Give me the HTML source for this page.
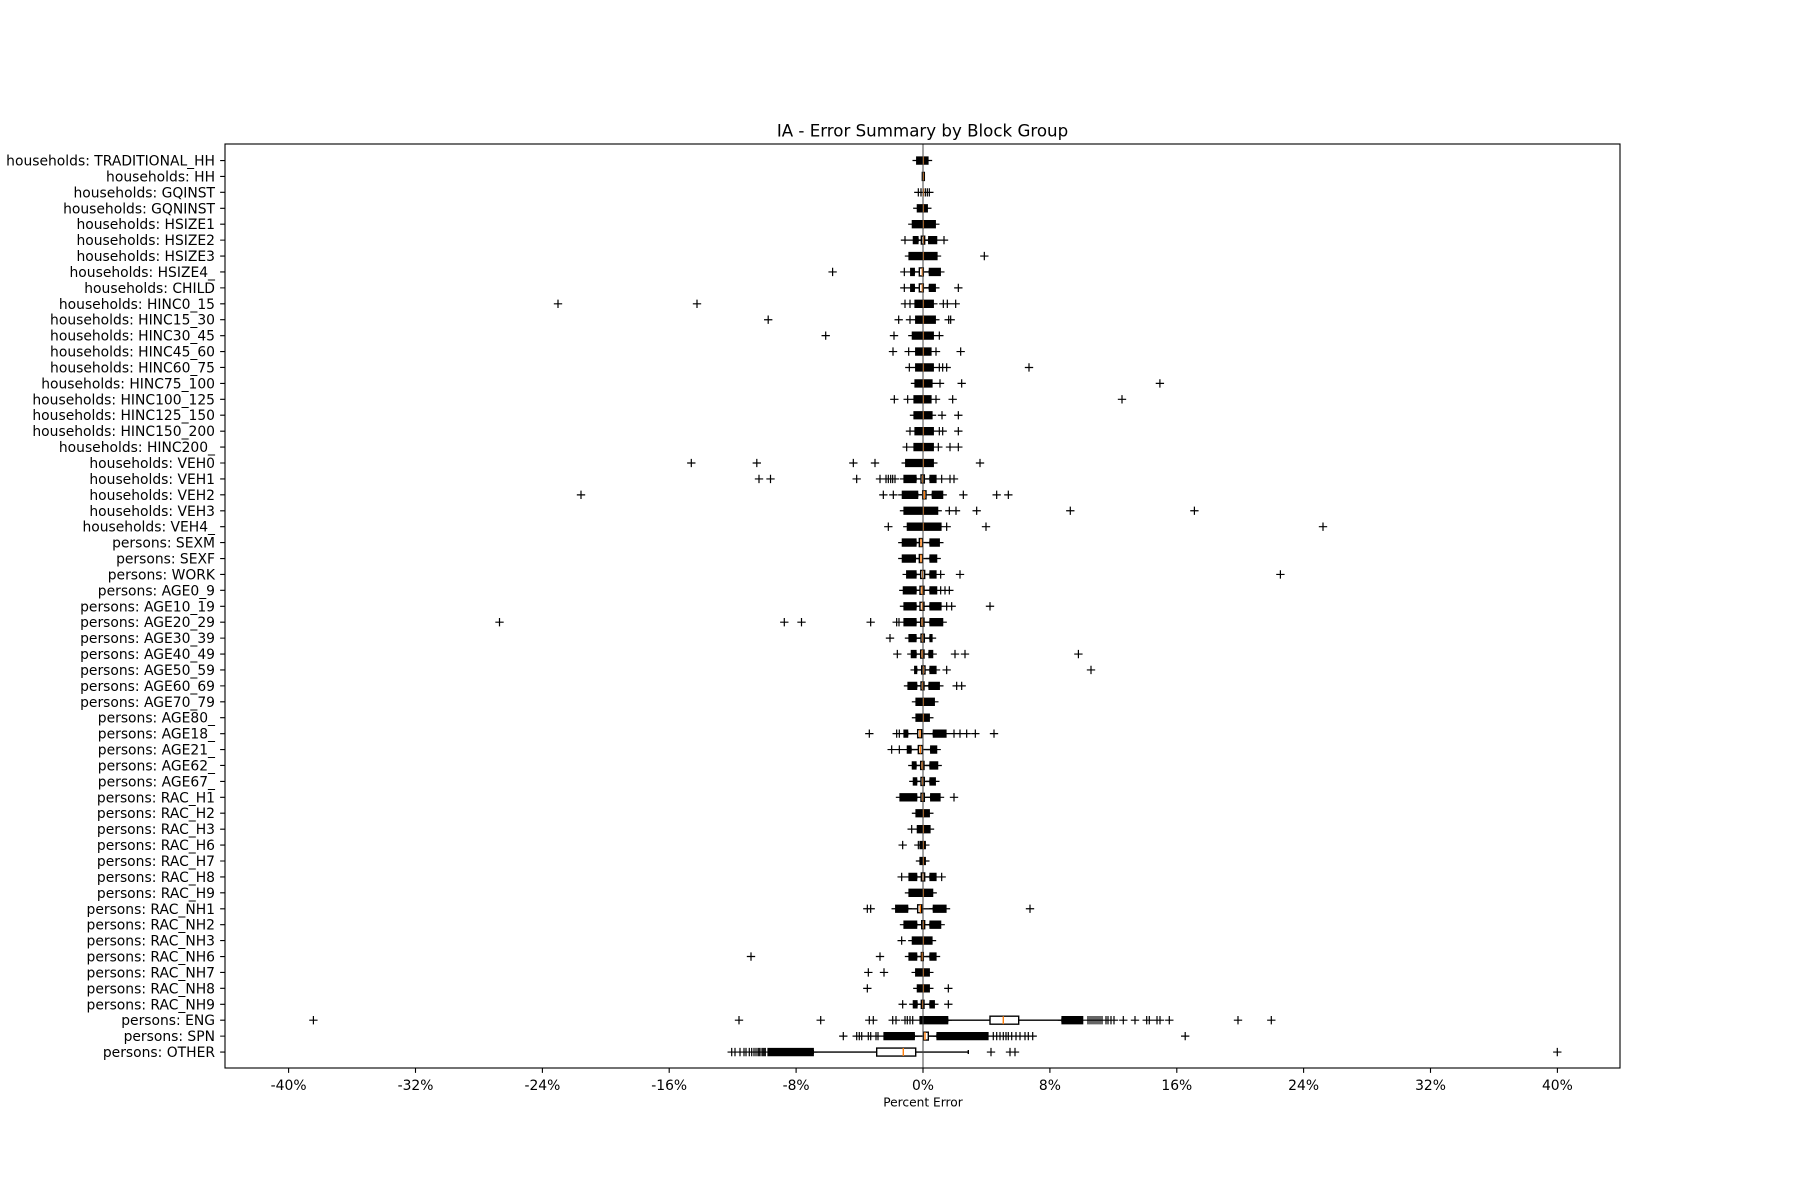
<!DOCTYPE html>
<html>
<head>
<meta charset="utf-8">
<style>
html,body{margin:0;padding:0;background:#fff;}
svg{display:block;}
text{font-family:"DejaVu Sans","Liberation Sans",sans-serif;fill:#000;}
</style>
</head>
<body>
<svg id="fig" width="1800" height="1200" viewBox="0 0 1800 1200" xmlns="http://www.w3.org/2000/svg">
<rect x="0" y="0" width="1800" height="1200" fill="#fff"/>
<text x="922.5" y="136.7" font-size="16.67" text-anchor="middle">IA - Error Summary by Block Group</text>

<path id="whisk" d="" fill="none" stroke="#000" stroke-width="1.39"/>
<path id="boxes" d="" fill="none" stroke="#000" stroke-width="1.39"/>
<path id="fliers" d="" fill="none" stroke="#000" stroke-width="1.2"/>
<path id="meds" d="" fill="none" stroke="#ff7f0e" stroke-width="1.39"/>
<line x1="923" y1="144" x2="923" y2="1068" stroke="#444" stroke-width="1"/>

<rect x="225" y="144" width="1395" height="924" fill="none" stroke="#000" stroke-width="1.11"/>
<path id="yticks" d="" fill="none" stroke="#000" stroke-width="1.11"/>
<path d="M288.6 1068v4.86M415.5 1068v4.86M542.4 1068v4.86M669.2 1068v4.86M796.1 1068v4.86M923 1068v4.86M1049.9 1068v4.86M1176.8 1068v4.86M1303.6 1068v4.86M1430.5 1068v4.86M1557.4 1068v4.86" fill="none" stroke="#000" stroke-width="1.11"/>

<g font-size="13.89" text-anchor="middle">
<text x="288.6" y="1090">-40%</text>
<text x="415.5" y="1090">-32%</text>
<text x="542.4" y="1090">-24%</text>
<text x="669.2" y="1090">-16%</text>
<text x="796.1" y="1090">-8%</text>
<text x="923" y="1090">0%</text>
<text x="1049.9" y="1090">8%</text>
<text x="1176.8" y="1090">16%</text>
<text x="1303.6" y="1090">24%</text>
<text x="1430.5" y="1090">32%</text>
<text x="1557.4" y="1090">40%</text>
</g>
<text x="923" y="1106.5" font-size="12.2" text-anchor="middle">Percent Error</text>

<g font-size="13.89" text-anchor="end">
<text x="215" y="165.52">households: TRADITIONAL_HH</text>
<text x="215" y="181.44">households: HH</text>
<text x="215" y="197.36">households: GQINST</text>
<text x="215" y="213.28">households: GQNINST</text>
<text x="215" y="229.20">households: HSIZE1</text>
<text x="215" y="245.12">households: HSIZE2</text>
<text x="215" y="261.04">households: HSIZE3</text>
<text x="215" y="276.96">households: HSIZE4_</text>
<text x="215" y="292.88">households: CHILD</text>
<text x="215" y="308.80">households: HINC0_15</text>
<text x="215" y="324.72">households: HINC15_30</text>
<text x="215" y="340.64">households: HINC30_45</text>
<text x="215" y="356.56">households: HINC45_60</text>
<text x="215" y="372.48">households: HINC60_75</text>
<text x="215" y="388.40">households: HINC75_100</text>
<text x="215" y="404.32">households: HINC100_125</text>
<text x="215" y="420.24">households: HINC125_150</text>
<text x="215" y="436.16">households: HINC150_200</text>
<text x="215" y="452.08">households: HINC200_</text>
<text x="215" y="468.00">households: VEH0</text>
<text x="215" y="483.92">households: VEH1</text>
<text x="215" y="499.84">households: VEH2</text>
<text x="215" y="515.76">households: VEH3</text>
<text x="215" y="531.68">households: VEH4_</text>
<text x="215" y="547.60">persons: SEXM</text>
<text x="215" y="563.52">persons: SEXF</text>
<text x="215" y="579.44">persons: WORK</text>
<text x="215" y="595.36">persons: AGE0_9</text>
<text x="215" y="611.28">persons: AGE10_19</text>
<text x="215" y="627.20">persons: AGE20_29</text>
<text x="215" y="643.12">persons: AGE30_39</text>
<text x="215" y="659.04">persons: AGE40_49</text>
<text x="215" y="674.96">persons: AGE50_59</text>
<text x="215" y="690.88">persons: AGE60_69</text>
<text x="215" y="706.80">persons: AGE70_79</text>
<text x="215" y="722.72">persons: AGE80_</text>
<text x="215" y="738.64">persons: AGE18_</text>
<text x="215" y="754.56">persons: AGE21_</text>
<text x="215" y="770.48">persons: AGE62_</text>
<text x="215" y="786.40">persons: AGE67_</text>
<text x="215" y="802.32">persons: RAC_H1</text>
<text x="215" y="818.24">persons: RAC_H2</text>
<text x="215" y="834.16">persons: RAC_H3</text>
<text x="215" y="850.08">persons: RAC_H6</text>
<text x="215" y="866.00">persons: RAC_H7</text>
<text x="215" y="881.92">persons: RAC_H8</text>
<text x="215" y="897.84">persons: RAC_H9</text>
<text x="215" y="913.76">persons: RAC_NH1</text>
<text x="215" y="929.68">persons: RAC_NH2</text>
<text x="215" y="945.60">persons: RAC_NH3</text>
<text x="215" y="961.52">persons: RAC_NH6</text>
<text x="215" y="977.44">persons: RAC_NH7</text>
<text x="215" y="993.36">persons: RAC_NH8</text>
<text x="215" y="1009.28">persons: RAC_NH9</text>
<text x="215" y="1025.20">persons: ENG</text>
<text x="215" y="1041.12">persons: SPN</text>
<text x="215" y="1057.04">persons: OTHER</text>
</g>
</svg>
<script>
(function(){
const Z = z => 850 + z/3;
const yOf = i => 144.6 + i*15.92;
const rows = [
/*1*/ {d:[[188,246]]},
/*2*/ {b:[217,223], m:220},
/*3*/ {o:[205,213,226,232,238]},
/*4*/ {d:[[190,244]]},
/*5*/ {d:[[175,268]]},
/*6*/ {o:[165,282], d:[[178,216],[224,272]], b:[214,224], m:220},
/*7*/ {o:[403], d:[[165,273]]},
/*8*/ {o:[163], O:[832.6], d:[[170,205],[226,283]], b:[208,220], m:217},
/*9*/ {o:[163,325], d:[[170,205],[226,268]], b:[208,220], m:217},
/*10*/ {o:[165,180,280,292,317], O:[558,697], d:[[183,262]]},
/*11*/ {o:[146,180,296,302], O:[768.2], d:[[185,268]]},
/*12*/ {o:[132,268], O:[825.7], d:[[175,262]]},
/*13*/ {o:[129,176,258,332], d:[[185,255]]},
/*14*/ {o:[178,268,278,290], O:[1029], d:[[185,262]]},
/*15*/ {o:[270,335], O:[1159.9], d:[[183,258]]},
/*16*/ {o:[133,173,258,308], O:[1122], d:[[180,255]]},
/*17*/ {o:[276,325], d:[[180,258]]},
/*18*/ {o:[180,268,278,325], d:[[183,262]]},
/*19*/ {o:[170,265,300,325], d:[[180,262]]},
/*20*/ {o:[10,75,390], O:[691.3,756.8], d:[[155,262]]},
/*21*/ {o:[20,90,108,115,122,128,135,275,300,312], O:[759,770.5], d:[[150,210],[228,270]], b:[213,223], m:218},
/*22*/ {o:[100,130,340,440,475], O:[581], d:[[145,215],[235,290]], b:[218,228], m:223},
/*23*/ {o:[298,318,380], O:[1070.3,1194.4], d:[[150,275]]},
/*24*/ {o:[115,290,408], O:[1323], d:[[160,285]]},
/*25*/ {d:[[145,210],[228,280]], b:[208,218], m:213},
/*26*/ {d:[[145,208],[228,272]], b:[208,218], m:213},
/*27*/ {o:[272,330], O:[1280.4], d:[[158,210],[228,270]], b:[212,224], m:218},
/*28*/ {o:[272,285,298], d:[[148,210],[228,272]], b:[210,222], m:216},
/*29*/ {o:[290,305,420], d:[[150,210],[228,285]], b:[210,222], m:217},
/*30*/ {o:[62,140,147], O:[499.5,784.3,801.5], d:[[150,210],[228,290]], b:[212,222], m:217},
/*31*/ {o:[120], d:[[165,210],[228,258]], b:[213,223], m:218},
/*32*/ {o:[142,315,345], O:[1078.4], d:[[172,210],[225,260]], b:[212,222], m:217},
/*33*/ {o:[290], O:[1091], d:[[182,212],[228,270]], b:[215,225], m:220},
/*34*/ {o:[320,335], d:[[162,212],[225,280]], b:[213,222], m:218},
/*35*/ {d:[[186,265]]},
/*36*/ {d:[[186,250]]},
/*37*/ {o:[58,140,148,312,330,350,376,432], d:[[150,185],[238,300]], b:[203,215], m:210},
/*38*/ {o:[125,148], d:[[160,195],[230,272]], b:[205,217], m:211},
/*39*/ {d:[[175,210],[228,275]], b:[212,222], m:217},
/*40*/ {d:[[178,212],[228,268]], b:[213,223], m:218},
/*41*/ {o:[150,312], d:[[140,212],[230,282]], b:[213,223], m:218},
/*42*/ {d:[[186,250]]},
/*43*/ {o:[185], d:[[190,252]]},
/*44*/ {o:[158,205], d:[[198,238]]},
/*45*/ {d:[[198,238]]},
/*46*/ {o:[155,275], d:[[165,212],[228,270]], b:[214,224], m:219},
/*47*/ {d:[[165,260]]},
/*48*/ {o:[52,62], O:[1030], d:[[125,185],[238,300]], b:[203,215], m:211},
/*49*/ {d:[[150,212],[228,284]], b:[215,224], m:220},
/*50*/ {o:[155], d:[[175,258]]},
/*51*/ {o:[90], O:[751], d:[[165,212],[228,270]], b:[214,220], m:217},
/*52*/ {o:[55,102], d:[[185,250]]},
/*53*/ {o:[52,295], d:[[190,250]]},
/*54*/ {o:[158,295], d:[[178,213],[228,265]], b:[214,222], m:218},
/*55 ENG*/ {r:true, O:[313.4,739,820.7,869.3,873.3,892.7,896,905,907.3,910,912.7,1088,1090,1092,1094,1096,1098,1100,1102,1106,1108,1111,1114,1123.3,1135,1146.7,1149.3,1157,1160,1169.3,1238,1271.3], d:[[916,951.7],[1058,1086.7]], b:[990,1018.7], m:1003.3},
/*56 SPN*/ {r:true, O:[843.3,856.7,859.3,861.7,868.3,870.7,876,878,993.3,996.7,1000,1003.3,1006,1008.3,1011.7,1016,1020,1025,1028.3,1032.7,1185.2], d:[[880,918.3],[933,992]], b:[923.3,928.3], m:925},
/*57 OTHER*/ {r:true, O:[731.7,735,740,744,746,749.3,751.7,754,756,758,759.3,761,762.7,764,765.3,991,1010,1015,1557.3], d:[[764,817.3]], b:[876.7,915.7], m:903.3, wr:968.3}
];
let fl='', wh='', bx='', md='', yt='';
const f = v => v.toFixed(2);
rows.forEach((r,k)=>{
  const i = k+1, y = yOf(i);
  yt += `M225 ${f(y)}h-4.86`;
  const cv = r.r ? (v=>v) : Z;
  const mk = x => { fl += `M${f(x-4.17)} ${f(y)}h8.34M${f(x)} ${f(y-4.17)}v8.34`; };
  (r.o||[]).forEach(z=>mk(cv(z)));
  (r.O||[]).forEach(x=>mk(x));
  const segs = (r.d||[]).map(([a,b])=>[cv(a)+4, cv(b)-4]);
  segs.forEach(([a,b])=>{
    if (b < a) { mk((a+b)/2); return; }
    for (let x=a; x<=b+0.01; x+=1) mk(x);
    mk(b);
  });
  if (r.b) {
    const b0 = cv(r.b[0]), b1 = cv(r.b[1]);
    bx += `M${f(b0)} ${f(y-3.98)}H${f(b1)}V${f(y+3.98)}H${f(b0)}Z`;
    let wl = r.wl, wr = r.wr;
    if (wl === undefined) { const L = segs.filter(s=>s[1] < b0); if (L.length) wl = Math.max(...L.map(s=>s[1])); }
    if (wr === undefined) { const R = segs.filter(s=>s[0] > b1); if (R.length) wr = Math.min(...R.map(s=>s[0])); }
    if (wl !== undefined) wh += `M${f(wl)} ${f(y)}H${f(b0)}M${f(wl)} ${f(y-1.99)}v3.98`;
    if (wr !== undefined) wh += `M${f(b1)} ${f(y)}H${f(wr)}M${f(wr)} ${f(y-1.99)}v3.98`;
  }
  const m = r.m !== undefined ? cv(r.m) : Z(220);
  md += `M${f(m)} ${f(y-3.98)}v7.96`;
});
document.getElementById('fliers').setAttribute('d', fl);
document.getElementById('whisk').setAttribute('d', wh);
document.getElementById('boxes').setAttribute('d', bx);
document.getElementById('meds').setAttribute('d', md);
document.getElementById('yticks').setAttribute('d', yt);
})();
</script>
</body>
</html>
